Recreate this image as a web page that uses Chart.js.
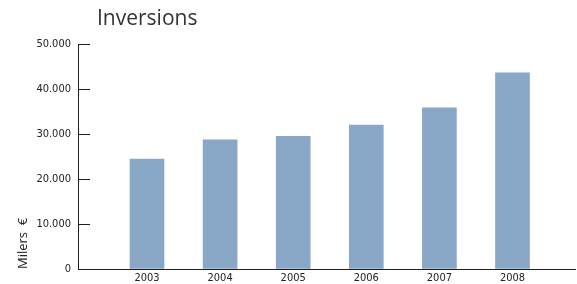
<!DOCTYPE html>
<html>
<head>
<meta charset="utf-8">
<script src="https://cdn.jsdelivr.net/npm/chart.js@4"></script>
<style>
  html, body { margin: 0; padding: 0; background: #fff; }
  #wrap { position: relative; width: 577px; height: 284px; }
  #wrap canvas { position: absolute; left: 0; top: 0; }
  #title { position: absolute; left: 97px; top: 7px; margin: 0; font: normal 21px/21px "Open Sans", sans-serif; color: #333; }
</style>
</head>
<body>
<div id="wrap">
  <canvas id="chart" width="577" height="284"></canvas>
  <h1 id="title">Inversions</h1>
</div>
<script>
const years = [2003, 2004, 2005, 2006, 2007, 2008];
const inversions = [24400, 28700, 29500, 32000, 35800, 43600];
const yTicks = [0, 10000, 20000, 30000, 40000, 50000];

const axisColor = "#231f20";
const tickFont = { family: "'DejaVu Sans Condensed', sans-serif", size: 11 };

function fmt(v) {
  return String(v).replace(/\B(?=(\d{3})+(?!\d))/g, ".");
}

new Chart(document.getElementById("chart").getContext("2d"), {
  type: "bar",
  data: {
    datasets: [{
      label: "Inversions",
      data: years.map((y, i) => ({ x: y, y: inversions[i] })),
      backgroundColor: "#89a7c7",
      barThickness: 34
    }]
  },
  options: {
    responsive: false,
    animation: false,
    layout: { padding: { top: 44, right: 2, left: 0, bottom: 0 } },
    plugins: {
      legend: { display: false },
      tooltip: { enabled: false }
    },
    scales: {
      x: {
        type: "linear",
        offset: false,
        min: 2002.056,
        max: 2008.855,
        afterBuildTicks: s => { s.ticks = years.map(v => ({ value: v })); },
        afterFit: s => { s.height = 15; },
        grid: { display: false, drawTicks: false },
        border: { display: true, color: axisColor, width: 1 },
        ticks: {
          color: "#222",
          font: tickFont,
          padding: 3,
          maxRotation: 0,
          callback: v => String(v)
        }
      },
      y: {
        min: 0,
        max: 50000,
        afterBuildTicks: s => { s.ticks = yTicks.map(v => ({ value: v })); },
        afterFit: s => { s.width = 78; s.paddingTop = 0; s.paddingBottom = 0; },
        grid: { drawOnChartArea: false, drawTicks: true, tickLength: -12, color: axisColor },
        border: { display: true, color: axisColor, width: 1 },
        ticks: {
          color: "#222",
          font: tickFont,
          padding: 19,
          callback: v => fmt(v)
        },
        title: {
          display: true,
          text: "Milers  €",
          align: "start",
          color: "#222",
          font: { family: "'Open Sans', sans-serif", size: 13 },
          padding: { top: 15, bottom: 0 }
        }
      }
    }
  }
});
</script>
</body>
</html>
